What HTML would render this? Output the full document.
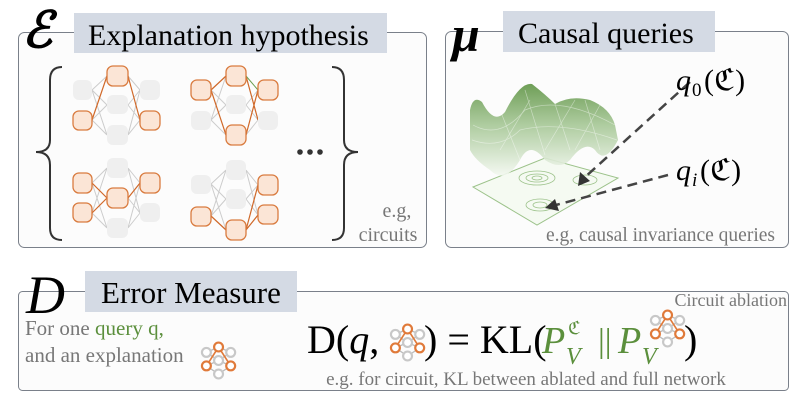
<!DOCTYPE html>
<html><head><meta charset="utf-8"><style>
html,body{margin:0;padding:0;background:#fff;}
svg{display:block;}
text{font-family:"Liberation Serif",serif;}
</style></head><body>
<svg width="801" height="405" viewBox="0 0 801 405" xmlns="http://www.w3.org/2000/svg">
<defs>
<linearGradient id="sg" x1="0" y1="0" x2="0" y2="1">
<stop offset="0" stop-color="#5f9445"/><stop offset="0.45" stop-color="#a6c796"/><stop offset="1" stop-color="#f3f8f0"/>
</linearGradient>
<g id="mini">
<g stroke="#bbb" stroke-width="1" fill="none">
<path d="M4 4 L13 0 M4 4 L13 10 M4 14 L13 10 M4 14 L13 20 M22 4 L13 10 M22 14 L13 10 M22 14 L13 20 M22 4 L13 0"/>
</g>
<path d="M4 14 L13 0 L22 14" stroke="#e07a3a" stroke-width="1.2" fill="none"/>
<g fill="#fff" stroke="#c8c8c8" stroke-width="1.6">
<circle cx="4" cy="4" r="3.3"/><circle cx="22" cy="4" r="3.3"/><circle cx="13" cy="10" r="3.3"/><circle cx="13" cy="20" r="3.3"/>
</g>
<g fill="#fff" stroke="#e07a3a" stroke-width="1.6">
<circle cx="13" cy="0" r="3.3"/><circle cx="4" cy="14" r="3.3"/><circle cx="22" cy="14" r="3.3"/>
</g>
</g>
</defs>

<!-- Box 1 -->
<rect x="18.5" y="32.5" width="408" height="215" rx="6" fill="#fcfcfc" stroke="#7a808a" stroke-width="1"/>
<rect x="74" y="13" width="313" height="40" fill="#d4dae4"/>
<text x="88" y="45" font-size="30">Explanation hypothesis</text>
<text x="22" y="47" font-size="50" font-style="italic" font-weight="bold" font-family="DejaVu Serif, serif">ℰ</text>

<!-- braces -->
<path d="M62 67 Q50 67 50 80 L50 140 Q50 152 36 152 Q50 152 50 165 L50 228 Q50 240 62 240" fill="none" stroke="#333" stroke-width="2"/>
<path d="M332 67 Q344 67 344 80 L344 140 Q344 152 358 152 Q344 152 344 165 L344 228 Q344 240 332 240" fill="none" stroke="#333" stroke-width="2"/>
<g fill="#333"><circle cx="300" cy="152" r="2.8"/><circle cx="310" cy="152" r="2.8"/><circle cx="320" cy="152" r="2.8"/></g>
<text x="397" y="217" font-size="20" fill="#777" text-anchor="middle">e.g,</text>
<text x="388" y="241" font-size="20" fill="#777" text-anchor="middle">circuits</text>

<!-- networks -->
<g stroke="#ccc" stroke-width="1" fill="none">
<path d="M92 90 L107 76 M92 90 L107 105 M92 90 L107 135 M92 120 L107 105 M92 120 L107 135 M128 76 L140 90 M128 105 L140 90 M128 105 L140 120 M128 135 L140 120 M128 135 L140 90"/>
<path d="M211 90 L226 105 M211 120 L226 76 M211 120 L226 105 M211 120 L226 135 M246 105 L258 90 M246 105 L258 120 M246 135 L258 120 M246 76 L258 120"/>
<path d="M92 183 L107 168 M92 213 L107 168 M92 183 L107 228 M92 213 L107 228 M128 168 L140 183 M128 168 L140 213 M128 198 L140 213 M128 228 L140 213 M128 228 L140 183"/>
<path d="M211 184 L226 170 M211 184 L226 199 M211 216 L226 170 M211 216 L226 199 M246 170 L258 185 M246 170 L258 215 M246 199 L258 185 M246 199 L258 215 M211 184 L226 230"/>
</g>
<g stroke="#d0692a" stroke-width="1.2" fill="none">
<path d="M92 120 L107 76 M128 76 L140 120"/>
<path d="M211 90 L226 76 M211 90 L226 135 M246 135 L258 90 M246 76 L258 120"/>
<path d="M92 183 L107 198 M92 213 L107 198 M128 198 L140 183"/>
<path d="M211 216 L226 230 M246 230 L258 185 M246 230 L258 215"/>
</g>
<path d="M246 76 L258 90" stroke="#6a9d4e" stroke-width="1"/>
<g fill="#efefef">
<rect x="73" y="80" width="19" height="20" rx="6"/><rect x="107" y="95" width="21" height="19" rx="6"/><rect x="107" y="125" width="21" height="20" rx="6"/><rect x="140" y="80" width="20" height="20" rx="6"/>
<rect x="191" y="111" width="20" height="19" rx="6"/><rect x="226" y="95" width="20" height="19" rx="6"/><rect x="258" y="111" width="20" height="19" rx="6"/>
<rect x="107" y="158" width="21" height="20" rx="6"/><rect x="107" y="218" width="21" height="20" rx="6"/><rect x="140" y="203" width="20" height="19" rx="6"/>
<rect x="191" y="175" width="20" height="19" rx="6"/><rect x="226" y="160" width="20" height="20" rx="6"/><rect x="226" y="189" width="20" height="20" rx="6"/>
</g>
<g fill="#fbe5d6" stroke="#d97b3f" stroke-width="1.3">
<rect x="73" y="111" width="19" height="19" rx="6"/><rect x="107" y="66" width="21" height="20" rx="6"/><rect x="140" y="111" width="20" height="19" rx="6"/>
<rect x="191" y="80" width="20" height="20" rx="6"/><rect x="226" y="66" width="20" height="20" rx="6"/><rect x="226" y="125" width="20" height="20" rx="6"/><rect x="258" y="80" width="20" height="20" rx="6"/>
<rect x="73" y="173" width="19" height="20" rx="6"/><rect x="73" y="203" width="19" height="19" rx="6"/><rect x="107" y="188" width="21" height="20" rx="6"/><rect x="140" y="173" width="20" height="20" rx="6"/>
<rect x="191" y="207" width="20" height="19" rx="6"/><rect x="226" y="220" width="20" height="20" rx="6"/><rect x="258" y="175" width="20" height="20" rx="6"/><rect x="258" y="205" width="20" height="19" rx="6"/>
</g>

<!-- Box 2 -->
<rect x="445.5" y="31.5" width="343" height="216" rx="6" fill="#fcfcfc" stroke="#7a808a" stroke-width="1"/>
<rect x="503" y="11" width="212" height="41" fill="#d4dae4"/>
<text x="518" y="43" font-size="30">Causal queries</text>
<text x="452" y="51" font-size="50" font-style="italic" font-weight="bold">μ</text>

<!-- surface -->
<path d="M473 187 L545 158 L618 178 L537 225 Z" fill="#f5faf2" stroke="#9cc28a" stroke-width="1"/>
<g fill="none" stroke="#9cc28a" stroke-width="0.8">
<ellipse cx="537" cy="178" rx="18" ry="7"/><ellipse cx="537" cy="178" rx="11" ry="4"/><ellipse cx="537" cy="178" rx="5" ry="2"/>
<ellipse cx="540" cy="205" rx="14" ry="6"/><ellipse cx="540" cy="205" rx="7" ry="3"/>
<ellipse cx="585" cy="180" rx="12" ry="5"/>
</g>
<path d="M470 110 Q473 95 482 102 Q494 125 505 112 Q520 82 532 84 Q546 95 555 104 Q570 95 590 100 Q610 108 615 125 L618 140 Q605 165 595 150 Q585 140 570 160 Q560 170 545 160 Q530 140 520 160 Q505 185 490 170 Q475 160 470 150 Z" fill="url(#sg)" opacity="0.9"/>
<g stroke="#fff" stroke-width="0.7" opacity="0.45" fill="none">
<path d="M473 125 Q500 140 525 110 Q560 95 615 125 M472 140 Q500 150 520 130 Q560 120 617 140"/>
<path d="M500 110 L520 160 M525 90 L545 155 M555 104 L570 150 M585 100 L600 150 M500 150 L530 100 M545 150 L575 100 M575 150 L600 105"/>
</g>

<!-- arrows -->
<g stroke="#444" stroke-width="2.5" stroke-dasharray="10 6" fill="none">
<path d="M690 82 L584 178"/>
<path d="M668 175 L556 205"/>
</g>
<path d="M578 186 L580 172 L590 181 Z" fill="#333"/>
<path d="M545 208 L555 199 L559 211 Z" fill="#333"/>
<text x="676" y="90" font-size="30" font-style="italic">q</text>
<text x="692" y="96" font-size="19">0</text>
<text x="704" y="90" font-size="30" font-family="DejaVu Serif, serif">(ℭ)</text>
<text x="676" y="180" font-size="30" font-style="italic">q</text>
<text x="692" y="186" font-size="19" font-style="italic">i</text>
<text x="700" y="180" font-size="30" font-family="DejaVu Serif, serif">(ℭ)</text>
<text x="775" y="241" font-size="19.5" fill="#777" text-anchor="end">e.g, causal invariance queries</text>

<!-- Box 3 -->
<rect x="18.5" y="291.5" width="770" height="99" rx="4" fill="#fcfcfc" stroke="#7a808a" stroke-width="1"/>
<rect x="85" y="271" width="212" height="41" fill="#d4dae4"/>
<text x="101" y="303" font-size="31">Error Measure</text>
<text x="26" y="313" font-size="54" font-style="italic">D</text>
<text x="25" y="335" font-size="21" fill="#777">For one <tspan fill="#5b8f3c">query q,</tspan></text>
<text x="25" y="362" font-size="21" fill="#777">and an explanation</text>
<use href="#mini" transform="translate(201 347) scale(1.35)"/>
<text x="787" y="306" font-size="18" fill="#777" text-anchor="end">Circuit ablation</text>

<text x="307" y="353" font-size="40">D(<tspan font-style="italic">q</tspan>,</text>
<use href="#mini" transform="translate(390 329) scale(1.35)"/>
<text x="424" y="353" font-size="40">) = KL(</text>
<text x="542" y="353" font-size="38" font-style="italic" fill="#5b8f3c">P</text>
<text x="566" y="364" font-size="24" font-style="italic" fill="#5b8f3c">V</text>
<text x="568" y="334" font-size="18" fill="#5b8f3c" font-family="DejaVu Serif, serif">ℭ</text>
<text x="598" y="352" font-size="34" fill="#5b8f3c">||</text>
<text x="618" y="353" font-size="38" font-style="italic" fill="#5b8f3c">P</text>
<text x="642" y="364" font-size="24" font-style="italic" fill="#5b8f3c">V</text>
<use href="#mini" transform="translate(650 315) scale(1.35)"/>
<text x="684" y="353" font-size="40">)</text>
<text x="526" y="385" font-size="19" fill="#777" text-anchor="middle">e.g. for circuit, KL between ablated and full network</text>
</svg>
</body></html>
